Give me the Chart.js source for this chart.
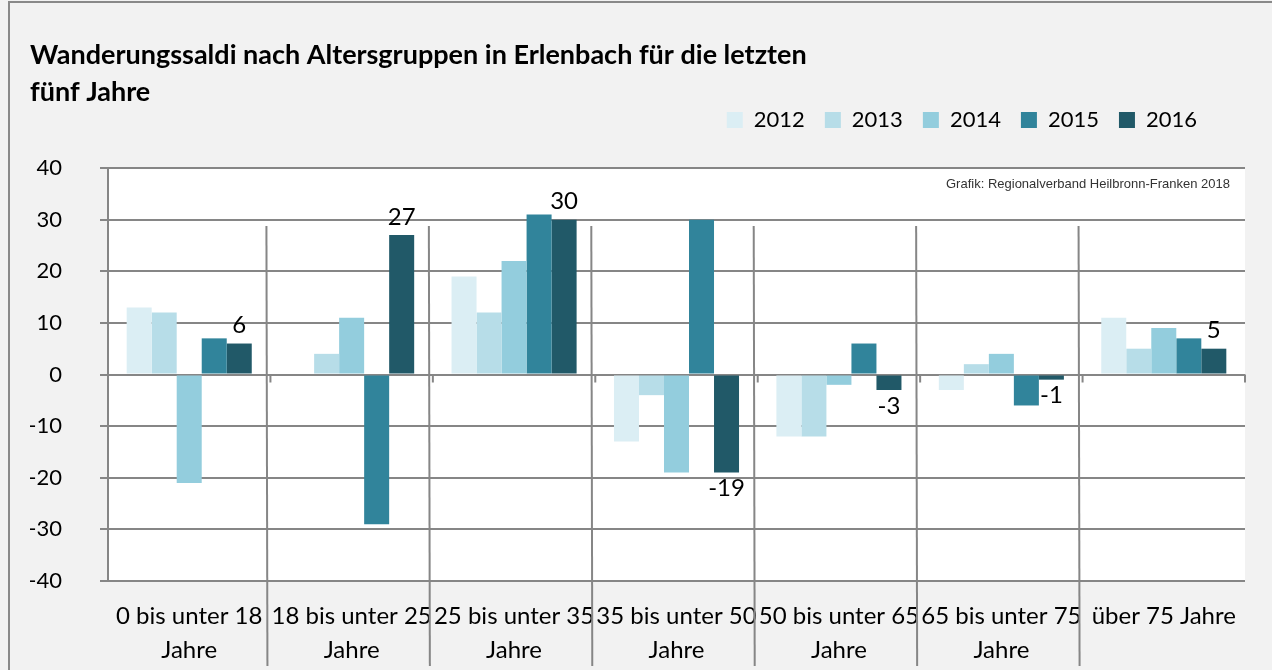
<!DOCTYPE html>
<html lang="de">
<head>
<meta charset="utf-8">
<title>Wanderungssaldi nach Altersgruppen in Erlenbach</title>
<script src="https://cdn.jsdelivr.net/npm/chart.js@4/dist/chart.umd.min.js"></script>
<style>
  html, body { margin: 0; padding: 0; background: #f2f2f2; }
  canvas { display: block; }
</style>
</head>
<body>
<canvas id="saldiChart" width="1272" height="670"></canvas>
<script>
const ageGroups = [
  ["0 bis unter 18", "Jahre"],
  ["18 bis unter 25", "Jahre"],
  ["25 bis unter 35", "Jahre"],
  ["35 bis unter 50", "Jahre"],
  ["50 bis unter 65", "Jahre"],
  ["65 bis unter 75", "Jahre"],
  "über 75 Jahre"
];
const years = ["2012", "2013", "2014", "2015", "2016"];
const saldo2012 = [13, 0, 19, -13, -12, -3, 11];
const saldo2013 = [12, 4, 12, -4, -12, 2, 5];
const saldo2014 = [-21, 11, 22, -19, -2, 4, 9];
const saldo2015 = [7, -29, 31, 30, 6, -6, 7];
const saldo2016 = [6, 27, 30, -19, -3, -1, 5];
const yearColors = ["#dbeef4", "#b7dde8", "#93cddd", "#31849b", "#215968"];
const sourceNote = "Grafik: Regionalverband Heilbronn-Franken 2018";

const gridGray = "#868686";
const fontFamily = "Lato, 'Open Sans', sans-serif";
const series = [saldo2012, saldo2013, saldo2014, saldo2015, saldo2016];

// grey page, white plot area, frame lines
const background = {
  id: "background",
  beforeDraw(chart) {
    const { ctx, chartArea: a, width, height } = chart;
    ctx.save();
    ctx.fillStyle = "#f2f2f2";
    ctx.fillRect(0, 0, width, height);
    ctx.fillStyle = "#ffffff";
    ctx.fillRect(a.left, a.top, a.right - a.left, a.bottom - a.top);
    ctx.strokeStyle = "#898989";
    ctx.lineWidth = 2;
    ctx.beginPath();
    ctx.moveTo(9, height);
    ctx.lineTo(9, 2);
    ctx.lineTo(width, 2);
    ctx.stroke();
    ctx.restore();
  }
};

// vertical separators between age groups + source note
const separators = {
  id: "separators",
  afterDraw(chart) {
    const { ctx, chartArea: a, height } = chart;
    const x = chart.scales.x;
    const zeroY = chart.scales.y.getPixelForValue(0);
    ctx.save();
    ctx.strokeStyle = gridGray;
    ctx.lineWidth = 2;
    for (let i = 1; i < ageGroups.length; i++) {
      const bx = (x.getPixelForValue(i - 1) + x.getPixelForValue(i)) / 2;
      ctx.beginPath();
      ctx.moveTo(bx - 4, a.top + 58);
      ctx.lineTo(bx - 3, height - 4);
      ctx.stroke();
      ctx.beginPath();
      ctx.moveTo(bx, zeroY);
      ctx.lineTo(bx, zeroY + 8);
      ctx.stroke();
    }
    ctx.beginPath();
    ctx.moveTo(a.right, zeroY);
    ctx.lineTo(a.right, zeroY + 8);
    ctx.stroke();

    ctx.fillStyle = "#333333";
    ctx.font = "13px 'Liberation Sans', Arial, sans-serif";
    ctx.textAlign = "right";
    ctx.textBaseline = "middle";
    ctx.fillText(sourceNote, a.right - 15, a.top + 16);
    ctx.restore();
  }
};

// value labels on the 2016 bars
const lastYearLabels = {
  id: "lastYearLabels",
  afterDatasetsDraw(chart) {
    const idx = chart.data.datasets.length - 1;
    const meta = chart.getDatasetMeta(idx);
    const { ctx } = chart;
    ctx.save();
    ctx.fillStyle = "#000000";
    ctx.font = "24px " + fontFamily;
    ctx.textAlign = "center";
    meta.data.forEach((bar, i) => {
      const v = chart.data.datasets[idx].data[i];
      if (v >= 0) {
        ctx.textBaseline = "bottom";
        ctx.fillText(v, bar.x, bar.y - 6);
      } else {
        ctx.textBaseline = "top";
        ctx.fillText(v, bar.x, bar.y + 4);
      }
    });
    ctx.restore();
  }
};

// legend sits a bit higher and further left than Chart.js puts it
const nudgeLegend = {
  id: "nudgeLegend",
  afterLayout(chart) {
    const l = chart.legend;
    if (!l) return;
    l.top -= 27;
    l.bottom -= 27;
    l.right -= 28;
  }
};

new Chart(document.getElementById("saldiChart"), {
  type: "bar",
  data: {
    labels: ageGroups,
    datasets: years.map((y, i) => ({
      label: y,
      data: series[i],
      backgroundColor: yearColors[i],
      borderWidth: 0,
      categoryPercentage: 0.77,
      barPercentage: 1
    }))
  },
  options: {
    responsive: false,
    animation: false,
    layout: { padding: { left: 30, right: 27, top: 0, bottom: 0 } },
    plugins: {
      title: {
        display: true,
        text: ["Wanderungssaldi nach Altersgruppen in Erlenbach für die letzten", "fünf Jahre"],
        align: "start",
        color: "#000000",
        font: { family: fontFamily, size: 27, weight: "bold", lineHeight: "37px" },
        padding: { top: 36.5, bottom: 5.5 }
      },
      legend: {
        position: "top",
        align: "end",
        labels: {
          color: "#000000",
          boxWidth: 16,
          boxHeight: 16,
          padding: 20,
          font: { family: fontFamily, size: 22 }
        }
      },
      tooltip: { enabled: false }
    },
    scales: {
      x: {
        grid: { display: false, drawTicks: false },
        border: { display: false },
        ticks: {
          color: "#000000",
          autoSkip: false,
          maxRotation: 0,
          padding: 18,
          font: { family: fontFamily, size: 24, lineHeight: "34px" }
        },
        afterFit(scale) { scale.height = 89; }
      },
      y: {
        min: -40,
        max: 40,
        ticks: {
          stepSize: 10,
          color: "#000000",
          padding: 38,
          font: { family: fontFamily, size: 22 }
        },
        grid: { color: gridGray, lineWidth: 2, tickLength: 8 },
        border: { display: true, color: gridGray, width: 2 },
        afterFit(scale) { scale.width = 78; }
      }
    }
  },
  plugins: [background, separators, lastYearLabels, nudgeLegend]
});
</script>
</body>
</html>
